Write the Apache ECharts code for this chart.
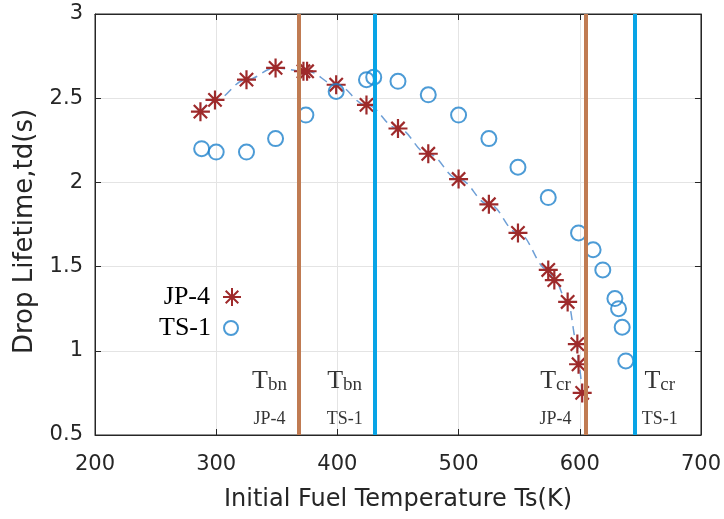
<!DOCTYPE html>
<html>
<head>
<meta charset="utf-8">
<script src="https://cdn.jsdelivr.net/npm/echarts@6/dist/echarts.min.js"></script>
<style>
  html, body { margin: 0; padding: 0; background: #fff; }
  #chart { width: 724px; height: 519px; }
</style>
</head>
<body>
<div id="chart"></div>
<script>
// JP-4 droplet lifetime (stars)
const tempJP4 = [287, 299, 325, 349, 372, 375, 399, 424, 450, 475, 500, 525, 549, 574, 579, 590, 598, 599, 602];
const lifeJP4 = [2.42, 2.49, 2.61, 2.68, 2.66, 2.66, 2.58, 2.46, 2.32, 2.17, 2.02, 1.87, 1.70, 1.48, 1.42, 1.29, 1.04, 0.92, 0.75];

// TS-1 droplet lifetime (circles)
const tempTS1 = [288, 300, 325, 349, 374, 399, 424, 430, 450, 475, 500, 525, 549, 574, 599, 611, 619, 629, 632, 635, 638];
const lifeTS1 = [2.20, 2.18, 2.18, 2.26, 2.40, 2.54, 2.61, 2.625, 2.60, 2.52, 2.40, 2.26, 2.09, 1.91, 1.70, 1.60, 1.48, 1.31, 1.25, 1.14, 0.94];

// characteristic temperatures: Tbn JP-4, Tbn TS-1, Tcr JP-4, Tcr TS-1
const lineTemps = [368, 431, 605, 645];
const lineColors = ["#c07b52", "#08a4e6", "#c07b52", "#08a4e6"];

// annotation text
const annoTemps = [344, 406, 580, 666];
const annoSub = ["bn", "bn", "cr", "cr"];
const annoFuel = ["JP-4", "TS-1", "JP-4", "TS-1"];
const annoRowMain = 0.82;
const annoRowFuel = 0.595;

const xTicks = [200, 700, 100];
const yTicks = [0.5, 3, 0.5];

const starPath = "path://M10,0 L10,20 M0,10 L20,10 M3,3 L17,17 M3,17 L17,3";
const axisGray = "#262626";
const sans = "DejaVu Sans";
const serif = "Liberation Serif";

const zip = (a, b) => a.map((v, i) => [v, b[i]]);

const legendText = { fontFamily: serif, fontSize: 26, color: "#000", padding: [0, 8, 0, 0] };

const chart = echarts.init(document.getElementById("chart"));
chart.setOption({
  animation: false,
  grid: { left: 95, right: 22, top: 14, bottom: 84, show: true, borderColor: axisGray, borderWidth: 1 },
  legend: [
    {
      data: ["JP-4"],
      align: "right",
      padding: 0,
      right: 482,
      top: 284,
      itemWidth: 18,
      itemHeight: 18,
      textStyle: legendText,
    },
    {
      data: ["TS-1"],
      align: "right",
      padding: 0,
      right: 485,
      top: 315,
      itemWidth: 14,
      itemHeight: 14,
      textStyle: legendText,
    },
  ],
  xAxis: [
    {
      type: "value",
      min: xTicks[0],
      max: xTicks[1],
      interval: xTicks[2],
      name: "Initial Fuel Temperature Ts(K)",
      nameLocation: "middle",
      nameGap: 53,
      nameTextStyle: { fontFamily: sans, fontSize: 24, color: axisGray },
      axisLine: { lineStyle: { color: axisGray } },
      axisTick: { inside: true, length: 6, lineStyle: { color: axisGray } },
      axisLabel: { fontFamily: sans, fontSize: 21, color: axisGray, margin: 19 },
      splitLine: { lineStyle: { color: "#e4e4e4" } },
    },
    {
      type: "value",
      position: "top",
      min: xTicks[0],
      max: xTicks[1],
      interval: xTicks[2],
      axisLine: { lineStyle: { color: axisGray } },
      axisTick: { inside: true, length: 6, lineStyle: { color: axisGray } },
      axisLabel: { show: false },
      splitLine: { show: false },
    },
  ],
  yAxis: [
    {
      type: "value",
      min: yTicks[0],
      max: yTicks[1],
      interval: yTicks[2],
      name: "Drop Lifetime,td(s)",
      nameLocation: "middle",
      nameGap: 56,
      nameTextStyle: { fontFamily: sans, fontSize: 26, color: axisGray, padding: [0, 14, 0, 0] },
      axisLine: { show: true, lineStyle: { color: axisGray } },
      axisTick: { show: true, inside: true, length: 6, lineStyle: { color: axisGray } },
      axisLabel: { fontFamily: sans, fontSize: 21, color: axisGray, margin: 12 },
      splitLine: { lineStyle: { color: "#e4e4e4" } },
    },
    {
      type: "value",
      position: "right",
      min: yTicks[0],
      max: yTicks[1],
      interval: yTicks[2],
      axisLine: { show: true, lineStyle: { color: axisGray } },
      axisTick: { show: true, inside: true, length: 6, lineStyle: { color: axisGray } },
      axisLabel: { show: false },
      splitLine: { show: false },
    },
  ],
  series: [
    {
      name: "fit",
      type: "line",
      data: zip(tempJP4, lifeJP4),
      smooth: 0.4,
      smoothMonotone: "x",
      showSymbol: false,
      silent: true,
      z: 1,
      lineStyle: { color: "#6e9fd6", width: 1.5, type: [9, 6] },
      markLine: {
        silent: true,
        symbol: "none",
        label: { show: false },
        data: lineTemps.map((t, i) => ({ xAxis: t, lineStyle: { color: lineColors[i], width: 4, type: "solid" } })),
      },
    },
    {
      name: "JP-4",
      type: "scatter",
      data: zip(tempJP4, lifeJP4),
      symbol: starPath,
      symbolSize: 19,
      z: 3,
      itemStyle: { color: "transparent", borderColor: "#9e2a2b", borderWidth: 2.2, opacity: 1 },
    },
    {
      name: "TS-1",
      type: "scatter",
      data: zip(tempTS1, lifeTS1),
      symbol: "circle",
      symbolSize: 15,
      z: 3,
      itemStyle: { color: "transparent", borderColor: "#1f82cc", borderWidth: 2 },
    },
    {
      name: "annoMain",
      type: "scatter",
      silent: true,
      symbolSize: 1,
      itemStyle: { color: "transparent" },
      data: annoTemps.map((t, i) => [t, annoRowMain, annoSub[i]]),
      label: {
        show: true,
        position: "inside",
        formatter: (p) => "{t|T}{s|" + p.data[2] + "}",
        rich: {
          t: { fontFamily: serif, fontSize: 26, color: "#000", verticalAlign: "bottom" },
          s: { fontFamily: serif, fontSize: 19, color: "#000", verticalAlign: "bottom", padding: [5, 0, 0, 0] },
        },
      },
    },
    {
      name: "annoFuel",
      type: "scatter",
      silent: true,
      symbolSize: 1,
      itemStyle: { color: "transparent" },
      data: annoTemps.map((t, i) => [t, annoRowFuel, annoFuel[i]]),
      label: {
        show: true,
        position: "inside",
        formatter: (p) => p.data[2],
        fontFamily: serif,
        fontSize: 18,
        color: "#000",
      },
    },
  ],
});
</script>
</body>
</html>
